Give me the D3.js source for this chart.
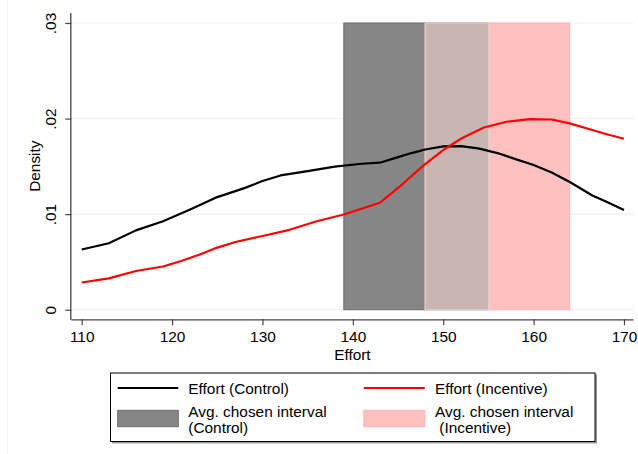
<!DOCTYPE html>
<html><head><meta charset="utf-8">
<script src="https://cdn.jsdelivr.net/npm/d3@7"></script>
<style>
html,body{margin:0;padding:0;background:#fff;}
svg{display:block;font-family:"Liberation Sans",Arial,Helvetica,sans-serif;}
text{white-space:pre;}
</style></head>
<body><svg id="c" width="638" height="454"></svg>
<script>
// ---- data ----
const effortControl = [110,113,116,119,122,125,128,130,132,135,138,141,143,145,146.5,148,150,152,154,156,158,160,162,164,166.5,168,170];
const densityControl = [.00630,.00695,.00830,.00925,.01048,.01178,.01272,.01346,.01405,.01450,.01498,.01527,.01538,.01597,.01639,.01676,.01709,.01712,.01686,.01639,.01576,.01514,.01435,.01336,.01195,.01132,.01043];
const effortIncentive = [110,113,116,119,121,123,125,127,130,133,136,139,143,145.5,148,150,152,154.5,157,159.6,162,164,166.5,168,170];
const densityIncentive = [.00285,.00328,.00405,.00452,.00510,.00575,.00650,.00708,.00771,.00836,.00925,.00996,.01119,.01315,.01524,.01671,.01791,.01906,.01967,.01995,.01990,.01950,.01880,.01838,.01789];
const intervalControl = [139,155];
const intervalIncentive = [148,164];
const xTicks = [110,120,130,140,150,160,170];
const yTicks = [0,.01,.02,.03];
const yTickLabels = ["0",".01",".02",".03"];
const legendLabels = [["Effort (Control)"],["Effort (Incentive)"],["Avg. chosen interval","(Control)"],["Avg. chosen interval"," (Incentive)"]];

const svg = d3.select("#c");
const FS = 15.4;
const x = d3.scaleLinear().domain([110,170]).range([81.7,624]);
const y = d3.scaleLinear().domain([0,.03]).range([309.7,23]);
const plotL = 71.3, plotR = 633.5, plotT = 13, plotB = 319.3;

// faint outer frame
svg.append("line").attr("x1",7.5).attr("x2",7.5).attr("y1",0).attr("y2",454).attr("stroke","#f2f2f2");

// gridlines
svg.append("g").selectAll("line").data(yTicks).join("line")
  .attr("x1",plotL+1).attr("x2",plotR).attr("y1",d=>y(d)).attr("y2",d=>y(d))
  .attr("stroke","#eaf2f3").attr("stroke-width",1.2);

// interval rectangles
const ov = [Math.max(intervalControl[0],intervalIncentive[0]), Math.min(intervalControl[1],intervalIncentive[1])];
svg.append("rect").attr("x",x(intervalControl[0])).attr("y",y(.03)).attr("width",x(intervalControl[1])-x(intervalControl[0])).attr("height",y(0)-y(.03))
  .attr("fill","#868686").attr("stroke","#6c6c6c").attr("stroke-width",1);
svg.append("rect").attr("x",x(intervalIncentive[0])).attr("y",y(.03)).attr("width",x(intervalIncentive[1])-x(intervalIncentive[0])).attr("height",y(0)-y(.03))
  .attr("fill","#ffc0c0").attr("stroke","#ffb4b4").attr("stroke-width",1);
svg.append("rect").attr("x",x(ov[0])).attr("y",y(.03)).attr("width",x(ov[1])-x(ov[0])).attr("height",y(0)-y(.03))
  .attr("fill","#c9b5b1").attr("stroke","#dcd2d0").attr("stroke-width",1);

// curves
const line = d3.line().x(d=>x(d[0])).y(d=>y(d[1]));
svg.append("path").datum(d3.zip(effortControl,densityControl)).attr("d",line)
  .attr("fill","none").attr("stroke","#000").attr("stroke-width",2.2).attr("stroke-linejoin","round");
svg.append("path").datum(d3.zip(effortIncentive,densityIncentive)).attr("d",line)
  .attr("fill","none").attr("stroke","#ff0000").attr("stroke-width",2.2).attr("stroke-linejoin","round");

// axes
const xAxis = d3.axisBottom(x).tickValues(xTicks).tickSize(6).tickPadding(5).tickFormat(d3.format("d"));
const gx = svg.append("g").attr("transform",`translate(0,${plotB})`).call(xAxis);
gx.select(".domain").attr("d",`M${plotL},0.5H${plotR}`).attr("stroke","#444").attr("stroke-width",1.3);
gx.selectAll(".tick line").attr("stroke","#444").attr("stroke-width",1.2);
gx.selectAll(".tick text").attr("font-size",FS).attr("font-family","Liberation Sans, Arial, sans-serif").attr("fill","#000").attr("dy",null).attr("y",23.2);

const yAxis = d3.axisLeft(y).tickValues(yTicks).tickSize(6).tickFormat((d,i)=>yTickLabels[i]);
const gy = svg.append("g").attr("transform",`translate(${plotL},0)`).call(yAxis);
gy.select(".domain").attr("d",`M-0.5,${plotT}V${plotB+0.5}`).attr("stroke","#444").attr("stroke-width",1.3);
gy.selectAll(".tick line").attr("stroke","#444").attr("stroke-width",1.2);
gy.selectAll(".tick text").attr("font-size",FS).attr("font-family","Liberation Sans, Arial, sans-serif").attr("fill","#000")
  .attr("x",null).attr("dy",null).attr("text-anchor","middle").attr("transform","translate(-15.5,0) rotate(-90)");

// axis titles
svg.append("text").attr("x",(plotL+plotR)/2).attr("y",360).attr("text-anchor","middle").attr("font-size",FS).text("Effort");
svg.append("text").attr("transform",`translate(39.5,${(plotT+plotB)/2}) rotate(-90)`).attr("text-anchor","middle").attr("font-size",FS).text("Density");

// legend
const lg = svg.append("g");
lg.append("rect").attr("x",112).attr("y",374.5).attr("width",485).attr("height",69).attr("fill","#999");
lg.append("rect").attr("x",110.5).attr("y",373).attr("width",484.5).attr("height",68.5).attr("fill","#fff").attr("stroke","#000").attr("stroke-width",1);
const cols = [117.7, 363.8];
const txtX = [188.3, 435];
lg.append("line").attr("x1",cols[0]).attr("x2",cols[0]+60.6).attr("y1",388).attr("y2",388).attr("stroke","#000").attr("stroke-width",2.2);
lg.append("line").attr("x1",cols[1]).attr("x2",cols[1]+61).attr("y1",388).attr("y2",388).attr("stroke","#ff0000").attr("stroke-width",2.2);
lg.append("rect").attr("x",cols[0]).attr("y",410.3).attr("width",60.6).attr("height",16.4).attr("fill","#868686").attr("stroke","#6c6c6c");
lg.append("rect").attr("x",cols[1]).attr("y",410.3).attr("width",61).attr("height",16.4).attr("fill","#ffc0c0").attr("stroke","#ffb4b4");
const pos = [[txtX[0],394.2],[txtX[1],394.2],[txtX[0],417.2],[txtX[1],417.2]];
legendLabels.forEach((lines,i)=>{
  const t = lg.append("text").attr("x",pos[i][0]).attr("y",pos[i][1]).attr("font-size",FS).attr("fill","#000");
  lines.forEach((s,j)=>t.append("tspan").attr("x",pos[i][0]).attr("dy",j?15.5:0).text(s));
});
</script></body></html>
